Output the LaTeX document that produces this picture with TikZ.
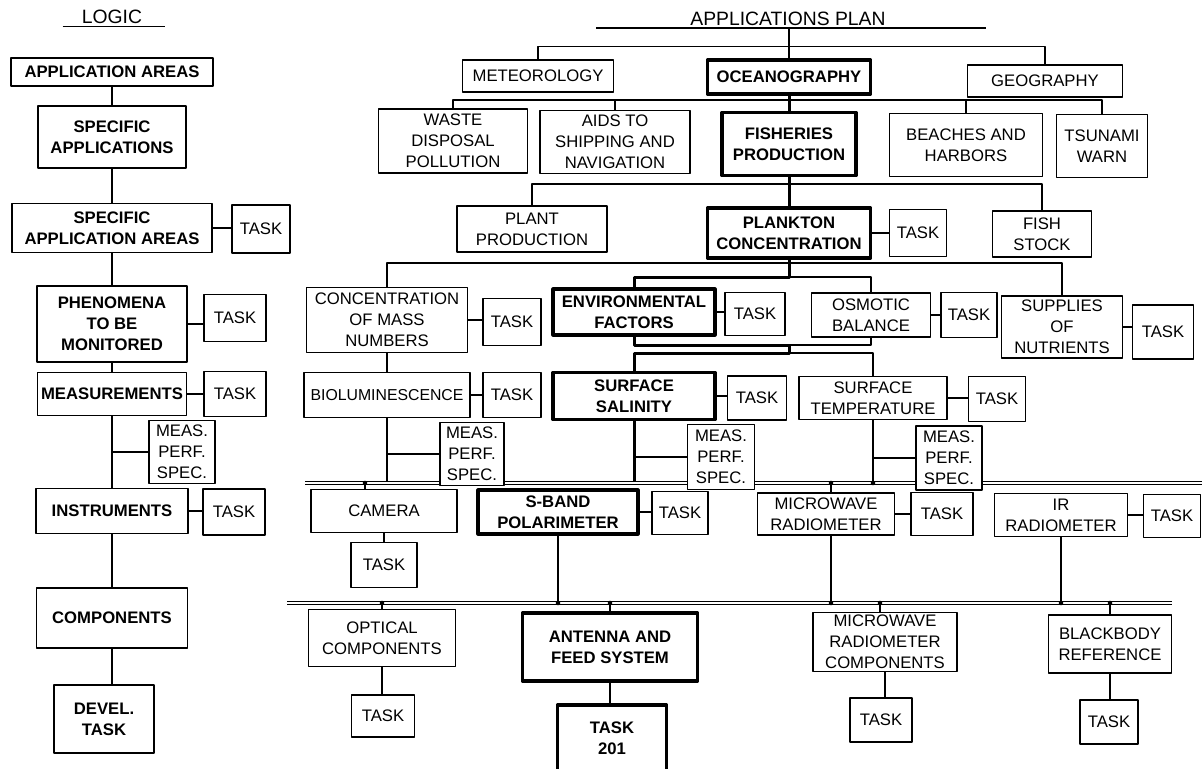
\documentclass[tikz,border=0pt]{standalone}
\usepackage{fontspec}
\setmainfont{Liberation Sans}
\usepackage{tikz}
\def \Px {0.02cm}
\tikzstyle{box}=[draw, line width=0.6pt, fill=white, align=center, inner sep=1pt, font=\fontsize{9.5}{12}\selectfont]
\tikzstyle{lbox}=[box, font=\fontsize{9.5}{12}\selectfont\bfseries]
\tikzstyle{hbox}=[box, line width=1.8pt, font=\fontsize{9.5}{12}\selectfont\bfseries]
\tikzstyle{heavy}=[line width=1.7pt]
\tikzstyle{medium}=[line width=1.1pt]
\tikzstyle{bus}=[double, line width=0.5pt, double distance=1.6pt]
\tikzstyle{heading}=[inner sep=1pt, font=\fontsize{11}{13}\selectfont]
\tikzset{dim/.style 2 args={minimum width=#1*\Px, minimum height=#2*\Px}}

\begin{document}
\begin{tikzpicture}[x=\Px, y=-\Px, line width=0.6pt, line join=round]
  \useasboundingbox (0,0) rectangle (1202,768);

  % logic column
  \node[heading] (logic) at (112,17) {LOGIC};
  \draw ([xshift=-0.34cm]logic.south west) -- ([xshift=0.42cm]logic.south east);

  \node[lbox, dim={202}{28}] (aa) at (112,72) {APPLICATION AREAS};
  \node[lbox, dim={148}{62}] (sa) at (112,137) {SPECIFIC\\APPLICATIONS};
  \node[lbox, dim={200}{49}] (saa) at (112,228) {SPECIFIC\\APPLICATION AREAS};
  \node[box, dim={58}{48}] (t1) at (261,229) {TASK};
  \node[lbox, dim={150}{76}] (phen) at (112,324) {PHENOMENA\\TO BE\\MONITORED};
  \node[box, dim={62}{47}] (t2) at (235,318) {TASK};
  \node[lbox, dim={149}{43}] (meas) at (112,394) {MEASUREMENTS};
  \node[box, dim={62}{45}] (t3) at (235,394) {TASK};
  \node[box, dim={66}{63}] (mps0) at (182,452) {MEAS.\\PERF.\\SPEC.};
  \node[lbox, dim={152}{45}] (instr) at (112,511) {INSTRUMENTS};
  \node[box, dim={62}{46}] (t4) at (234,512) {TASK};
  \node[lbox, dim={151}{60}] (comp) at (112,618) {COMPONENTS};
  \node[lbox, dim={100}{68}] (devel) at (104,719) {DEVEL.\\TASK};

  \foreach \a/\b in {aa/sa, sa/saa, saa/phen, phen/meas, meas/instr, instr/comp}{
    \draw (\a.south) -- (\b.north);
  }
  \draw (comp.south) -- (comp.south |- devel.north);
  \draw (mps0.west) -- (mps0.west -| meas.south);
  \foreach \a/\b in {saa/t1, phen/t2, meas/t3, instr/t4}{
    \draw (\a.east) -- (\a.east -| \b.west);
  }

  % applications plan
  \node[heading] (plan) at (788,19) {APPLICATIONS PLAN};
  \draw[line width=1.3pt] ([xshift=-1.84cm]plan.south west) -- ([xshift=1.96cm]plan.south east);

  \node[box, dim={151}{32}] (meteo) at (538,76) {METEOROLOGY};
  \node[hbox, dim={163}{34}] (ocean) at (789,77) {OCEANOGRAPHY};
  \node[box, dim={155}{32}] (geo) at (1045,81) {GEOGRAPHY};

  \node[box, dim={149}{64}] (waste) at (453,141) {WASTE\\DISPOSAL\\POLLUTION};
  \node[box, dim={150}{63}] (aids) at (615,142) {AIDS TO\\SHIPPING AND\\NAVIGATION};
  \node[hbox, dim={134}{63}] (fish) at (789,144) {FISHERIES\\PRODUCTION};
  \node[box, dim={153}{63}] (beach) at (966,145) {BEACHES AND\\HARBORS};
  \node[box, dim={91}{63}] (tsunami) at (1102,146) {TSUNAMI\\WARN};

  \node[box, dim={150}{46}] (plant) at (532,229) {PLANT\\PRODUCTION};
  \node[hbox, dim={163}{50}] (plank) at (789,233) {PLANKTON\\CONCENTRATION};
  \node[box, dim={57}{47}] (tplank) at (918,233) {TASK};
  \node[box, dim={99}{46}] (stock) at (1042,234) {FISH\\STOCK};

  \node[box, dim={161}{65}] (conc) at (387,320) {CONCENTRATION\\OF MASS\\NUMBERS};
  \node[box, dim={58}{47}] (tconc) at (512,322) {TASK};
  \node[hbox, dim={162}{46}] (env) at (634,312) {ENVIRONMENTAL\\FACTORS};
  \node[box, dim={60}{43}] (tenv) at (755,314) {TASK};
  \node[box, dim={119}{44}] (osm) at (871,315) {OSMOTIC\\BALANCE};
  \node[box, dim={56}{45}] (tosm) at (969,315) {TASK};
  \node[box, dim={121}{62}] (sup) at (1062,327) {SUPPLIES\\OF\\NUTRIENTS};
  \node[box, dim={61}{54}] (tsup) at (1163,332) {TASK};

  \node[box, dim={166}{45}, font=\fontsize{9}{12}\selectfont] (bio) at (387,395) {BIOLUMINESCENCE};
  \node[box, dim={58}{45}] (tbio) at (512,395) {TASK};
  \node[hbox, dim={162}{47}] (sal) at (634,396) {SURFACE\\SALINITY};
  \node[box, dim={59}{44}] (tsal) at (757,398) {TASK};
  \node[box, dim={148}{43}] (temp) at (873,398) {SURFACE\\TEMPERATURE};
  \node[box, dim={57}{45}] (ttemp) at (997,399) {TASK};

  \node[box, dim={146}{43}] (cam) at (384,511) {CAMERA};
  \node[box, dim={66}{45}] (tcam) at (384,565) {TASK};
  \node[hbox, dim={160}{44}] (sband) at (558,512) {S-BAND\\POLARIMETER};
  \node[box, dim={56}{43}] (tsband) at (680,513) {TASK};
  \node[box, dim={137}{42}] (mwr) at (826,514) {MICROWAVE\\RADIOMETER};
  \node[box, dim={62}{43}] (tmwr) at (942,514) {TASK};
  \node[box, dim={133}{43}] (ir) at (1061,515) {IR\\RADIOMETER};
  \node[box, dim={57}{43}] (tir) at (1172,516) {TASK};

  \node[box, dim={147}{57}] (opt) at (382,638) {OPTICAL\\COMPONENTS};
  \node[box, dim={63}{42}] (topt) at (383,716) {TASK};
  \node[hbox, dim={175}{68}] (ant) at (610,647) {ANTENNA AND\\FEED SYSTEM};
  \node[hbox, dim={109}{66}] (t201) at (612,738) {TASK\\201};
  \node[box, dim={144}{59}] (mwrc) at (885,642) {MICROWAVE\\RADIOMETER\\COMPONENTS};
  \node[box, dim={62}{44}] (tmwrc) at (881,720) {TASK};
  \node[box, dim={123}{58}] (bb) at (1110,644) {BLACKBODY\\REFERENCE};
  \node[box, dim={58}{44}] (tbb) at (1109,722) {TASK};

  % tree bars
  \coordinate (barB) at (0,100);
  \coordinate (barC) at (0,184);
  \coordinate (barD) at (0,263);
  \coordinate (envjoin) at (789,277);
  \coordinate (envout) at (789,345);
  \coordinate (salin) at (789,353);

  \draw[line width=1.3pt] (ocean.north |- plan.south) -- (ocean.north);
  \draw (meteo.north) -- ++(0,-13) -| (geo.north);
  \draw (waste.north) |- (barB -| tsunami.north) -- (tsunami.north);
  \foreach \n in {aids, beach}{
    \draw (\n.north) -- (\n.north |- barB);
  }
  \draw[heavy] (ocean.south) -- (fish.north);
  \draw (plant.north) |- (barC -| stock.north) -- (stock.north);
  \draw[heavy] (fish.south) -- (plank.north);
  \draw (conc.north) |- (barD -| sup.north) -- (sup.north);
  \draw[heavy] (plank.south) -- (envjoin) -| (env.north);
  \draw (envjoin) -| (osm.north);
  \draw (osm.south) |- (envout);
  \draw[heavy] (env.south) |- (envout) -- (salin) -| (sal.north);
  \draw (salin) -| (temp.north);
  \draw (conc.south) -- (bio.north);

  \foreach \a/\b in {plank/tplank, conc/tconc, env/tenv, osm/tosm, sup/tsup,
                     bio/tbio, sal/tsal, temp/ttemp, sband/tsband, mwr/tmwr, ir/tir}{
    \draw (\a.east) -- (\a.east -| \b.west);
  }
  \foreach \a/\b in {cam/tcam, opt/topt, mwrc/tmwrc, bb/tbb}{
    \draw (\a.south) -- (\a.south |- \b.north);
  }
  \draw[medium] (ant.south) -- (ant.south |- t201.north);

  % buses
  \coordinate (busAw) at (305,483);
  \coordinate (busAe) at (1202,483);
  \coordinate (busBw) at (287,603);
  \coordinate (busBe) at (1172,603);
  \coordinate (camtap) at (365,483);
  \coordinate (mwrtap) at (831,483);
  \coordinate (mwrctap) at (880,603);

  \draw (bio.south) -- (bio.south |- busAw);
  \draw[heavy] (sal.south) -- (sal.south |- busAw);
  \draw (temp.south) -- (temp.south |- busAw);
  \draw (camtap) -- (camtap |- cam.north);
  \draw (mwrtap) -- (mwrtap |- mwr.north);
  \draw (mwrtap |- mwr.south) -- (mwrtap |- busBw);
  \draw[medium] (sband.south) -- (sband.south |- busBw);
  \draw (ir.south) -- (ir.south |- busBw);
  \draw (opt.north) -- (opt.north |- busBw);
  \draw (ant.north) -- (ant.north |- busBw);
  \draw (mwrctap) -- (mwrctap |- mwrc.north);
  \draw (bb.north) -- (bb.north |- busBw);

  \draw[bus] (busAw) -- (busAe);
  \draw[bus] (busBw) -- (busBe);
  \foreach \p in {camtap, mwrtap, temp.south |- busAw, opt.north |- busBw,
                  sband.south |- busBw, ant.north |- busBw, mwrtap |- busBw,
                  mwrctap, ir.south |- busBw, bb.north |- busBw}{
    \fill (\p) circle (1.3pt);
  }

  % spec boxes sit on the bus
  \node[box, dim={64}{63}] (mps1) at (472,454) {MEAS.\\PERF.\\SPEC.};
  \node[box, dim={67}{65}] (mps2) at (721,457) {MEAS.\\PERF.\\SPEC.};
  \node[box, dim={66}{64}] (mps3) at (949,458) {MEAS.\\PERF.\\SPEC.};
  \draw (mps1.west) -- (mps1.west -| bio.south);
  \draw (mps2.west) -- (mps2.west -| sal.south);
  \draw (mps3.west) -- (mps3.west -| temp.south);
\end{tikzpicture}
\end{document}
